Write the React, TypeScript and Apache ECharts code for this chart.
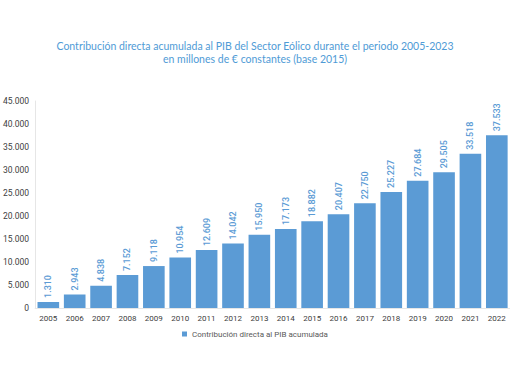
import React, { useEffect, useRef } from "react";
import * as echarts from "echarts";

const years = ["2005","2006","2007","2008","2009","2010","2011","2012","2013","2014","2015","2016","2017","2018","2019","2020","2021","2022"];
const values = [1310, 2943, 4838, 7152, 9118, 10954, 12609, 14042, 15950, 17173, 18882, 20407, 22750, 25227, 27684, 29505, 33518, 37533];
const seriesName = "Contribución directa al PIB acumulada";
const titleLines = [
  "Contribución directa acumulada al PIB del Sector Eólico durante el periodo 2005-2023",
  "en millones de € constantes (base 2015)",
];

const fmt = (v: number) => String(v).replace(/\B(?=(\d{3})+(?!\d))/g, ".");

export default function App() {
  const ref = useRef<HTMLDivElement>(null);
  useEffect(() => {
    const chart = echarts.init(ref.current!, null, { renderer: "svg" });
    chart.setOption({
      animation: false,
      backgroundColor: "#ffffff",
      title: {
        text: titleLines.join("\n"),
        left: "center",
        top: 34,
        textStyle: {
          color: "#4f9bd6",
          fontSize: 10.5,
          fontWeight: "normal",
          fontFamily: "Lato",
          lineHeight: 13.5,
        },
      },
      legend: {
        bottom: 39,
        left: "center",
        itemWidth: 5,
        itemHeight: 5,
        icon: "rect",
        itemGap: 4,
        textStyle: { color: "#595959", fontSize: 8, fontFamily: "Roboto" },
        data: [seriesName],
      },
      grid: { left: 30, right: -2, top: 101, bottom: 74, containLabel: false },
      xAxis: {
        type: "category",
        data: years,
        axisLine: { show: true, lineStyle: { color: "#e6e6e6" } },
        axisTick: { show: false },
        axisLabel: { color: "#404040", fontSize: 8, fontFamily: "Roboto", margin: 6 },
      },
      yAxis: {
        type: "value",
        min: 0,
        max: 45000,
        interval: 5000,
        axisLine: { show: true, lineStyle: { color: "#e6e6e6" } },
        axisTick: { show: false },
        splitLine: { show: false },
        axisLabel: {
          color: "#404040",
          fontSize: 8.5,
          fontFamily: "Roboto",
          margin: 6,
          formatter: (v: number) => fmt(v),
        },
      },
      series: [
        {
          name: seriesName,
          type: "bar",
          data: values,
          barWidth: "82%",
          itemStyle: { color: "#5b9bd5" },
          label: {
            show: true,
            position: "top",
            rotate: 90,
            align: "left",
            verticalAlign: "middle",
            distance: 4,
            color: "#5b9bd5",
            fontSize: 9,
            fontWeight: 500,
            fontFamily: "Roboto",
            formatter: (p: any) => fmt(p.value),
          },
        },
      ],
    });
    return () => chart.dispose();
  }, []);
  return <div ref={ref} style={{ width: 510, height: 382, position: "absolute", left: 0, top: 0 }} />;
}
